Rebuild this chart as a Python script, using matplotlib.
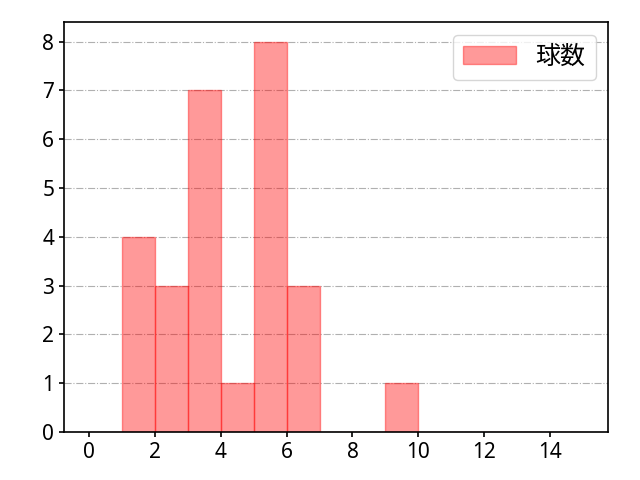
import matplotlib.pyplot as plt
import numpy as np

plt.rcParams['font.family'] = ['Noto Sans', 'Noto Sans CJK JP']

bin_edges = list(range(0, 16))
counts = [0, 4, 3, 7, 1, 8, 3, 0, 0, 1, 0, 0, 0, 0, 0]

fig, ax = plt.subplots(figsize=(6.4, 4.8), dpi=100)
ax.hist(bin_edges[:-1], bins=bin_edges, weights=counts,
        color='red', alpha=0.4, edgecolor='red', label='球数')
ax.grid(axis='y', linestyle='-.', color='#b0b0b0')
ax.set_axisbelow(True)
ax.set_xticks(np.arange(0, 15, 2))
ax.set_yticks(range(0, 9))
ax.legend(loc='upper right', fontsize=18, handlelength=2.1)
ax.tick_params(labelsize=15, width=1.2)
for s in ax.spines.values():
    s.set_linewidth(1.2)
fig.subplots_adjust(left=0.1, right=0.95, bottom=0.1, top=0.954)
fig.savefig('out.png')
